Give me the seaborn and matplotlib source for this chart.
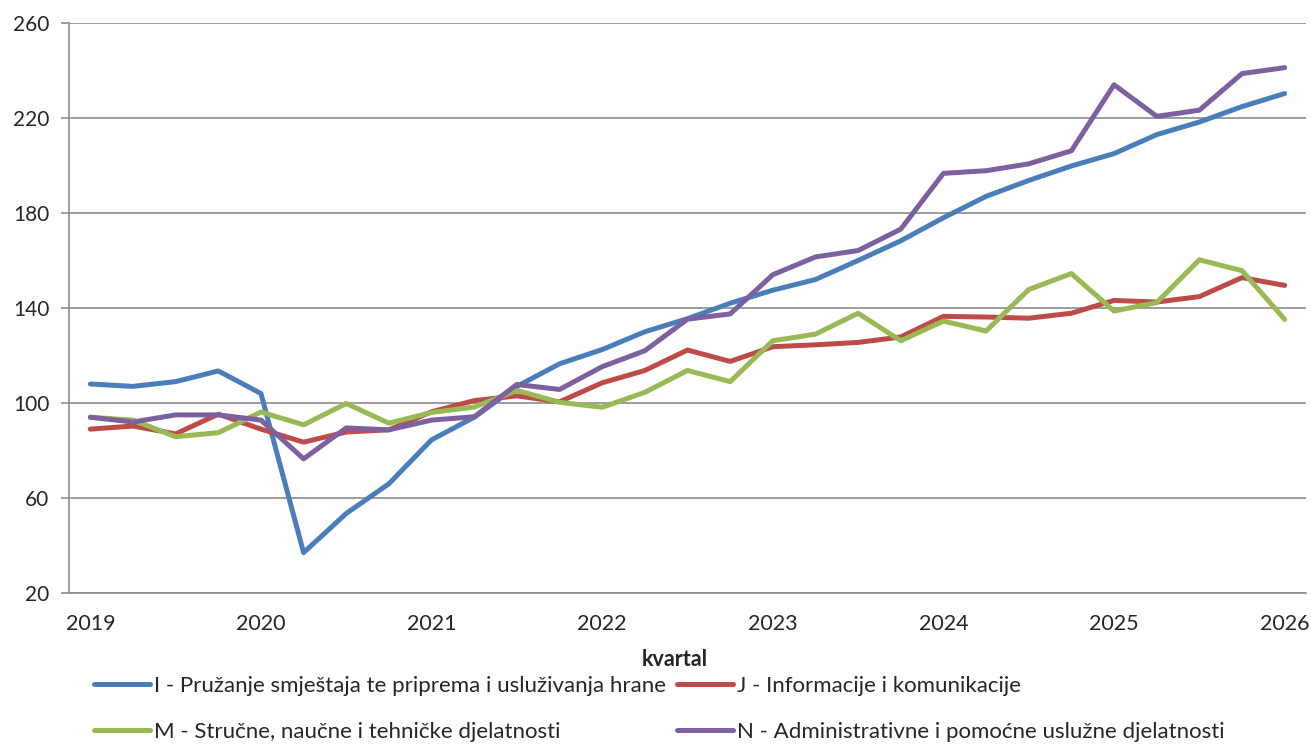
import numpy as np
import pandas as pd
import matplotlib
matplotlib.use("Agg")
import matplotlib.pyplot as plt
import seaborn as sns

# quarterly index values, 2019Q1 .. 2026Q1
smjestaj = [108, 107, 109, 113.5, 104, 37, 53.5, 66, 84.5, 94, 107, 116.5, 122.5, 130,
            135.5, 142, 147.5, 152, 160, 168.3, 178, 187, 193.7, 199.8, 205, 213,
            218.3, 224.8, 230.3]
informacije = [89, 90.3, 87, 95.3, 89, 83.5, 87.8, 88.7, 96.3, 101, 103, 100.5, 108.5,
               113.7, 122.3, 117.5, 123.7, 124.5, 125.5, 127.8, 136.5, 136.2, 135.7,
               137.8, 143.2, 142.5, 144.8, 152.8, 149.5]
strucne = [94, 92.8, 85.8, 87.5, 96.2, 90.8, 99.8, 91.5, 96, 98.3, 105.3, 100.3, 98.2,
           104.5, 113.7, 109, 126.2, 129, 137.8, 126.2, 134.5, 130.3, 147.8, 154.5,
           138.7, 142.3, 160.3, 155.7, 135.2]
administrativne = [94, 92, 95, 95, 92.8, 76.5, 89.5, 88.7, 92.8, 94.2, 107.8, 105.7,
                   115.3, 122, 135.3, 137.5, 154, 161.5, 164.2, 173.2, 196.7, 197.8,
                   200.7, 206.2, 234, 220.7, 223.3, 238.7, 241.2]

series_names = [
    "I - Pružanje smještaja te priprema i usluživanja hrane",
    "J - Informacije i komunikacije",
    "M - Stručne, naučne i tehničke djelatnosti",
    "N - Administrativne i pomoćne uslužne djelatnosti",
]
colors = ["#4A7EBB", "#BE4B48", "#98B954", "#7D60A0"]
years = ["2019", "2020", "2021", "2022", "2023", "2024", "2025", "2026"]
y_ticks = [20, 60, 100, 140, 180, 220, 260]

n = len(smjestaj)
frames = []
for name, vals in zip(series_names, [smjestaj, informacije, strucne, administrativne]):
    frames.append(pd.DataFrame({"kvartal": np.arange(n), "vrijednost": vals, "serija": name}))
df = pd.concat(frames, ignore_index=True)

sns.set_style("white")
plt.rcParams["font.family"] = ["Lato", "DejaVu Sans"]

fig = plt.figure(figsize=(13.11, 7.44), dpi=100)
ax = fig.add_axes([69 / 1311, 1 - 593 / 744, (1306 - 69) / 1311, (593 - 23) / 744])

sns.lineplot(data=df, x="kvartal", y="vrijednost", hue="serija", palette=colors,
             linewidth=3.6, ax=ax, legend=True)

grid_c = "#8C8C8C"
ax.set_ylim(20, 260)
ax.set_yticks(y_ticks)
ax.yaxis.grid(True, color=grid_c, linewidth=1.2)
ax.set_axisbelow(True)
ax.set_xlim(-0.5, n - 0.5)
ax.set_xticks(np.arange(0, n, 4))
ax.set_xticklabels(years)
ax.set_xticks(np.arange(-0.5, n, 1), minor=True)
ax.tick_params(axis="x", which="major", length=0, pad=15, labelsize=15.5)
ax.tick_params(axis="x", which="minor", length=6, width=1.2, color=grid_c, direction="out")
ax.tick_params(axis="y", length=6, width=1.2, color=grid_c, pad=8, labelsize=15,
               direction="out", left=True)
for s in ["top", "right"]:
    ax.spines[s].set_visible(False)
for s in ["left", "bottom"]:
    ax.spines[s].set_color(grid_c)
    ax.spines[s].set_linewidth(1.2)

ax.set_ylabel("")
ax.set_xlabel("kvartal", fontsize=15.5, fontweight="bold", labelpad=14)
ax.xaxis.set_label_coords(0.49, -0.098)

# legend filled row by row: I, J / M, N
handles, labels = ax.get_legend_handles_labels()
ax.get_legend().remove()
order = [0, 2, 1, 3]
fig.legend([handles[i] for i in order], [labels[i] for i in order], ncol=2,
           loc="upper left", bbox_to_anchor=(94 / 1311, 1 - 676 / 744), frameon=False,
           fontsize=16, handlelength=2.5, handletextpad=0.2, columnspacing=0.5,
           labelspacing=1.15, borderpad=0, borderaxespad=0)

fig.savefig("out.png", dpi=100)
